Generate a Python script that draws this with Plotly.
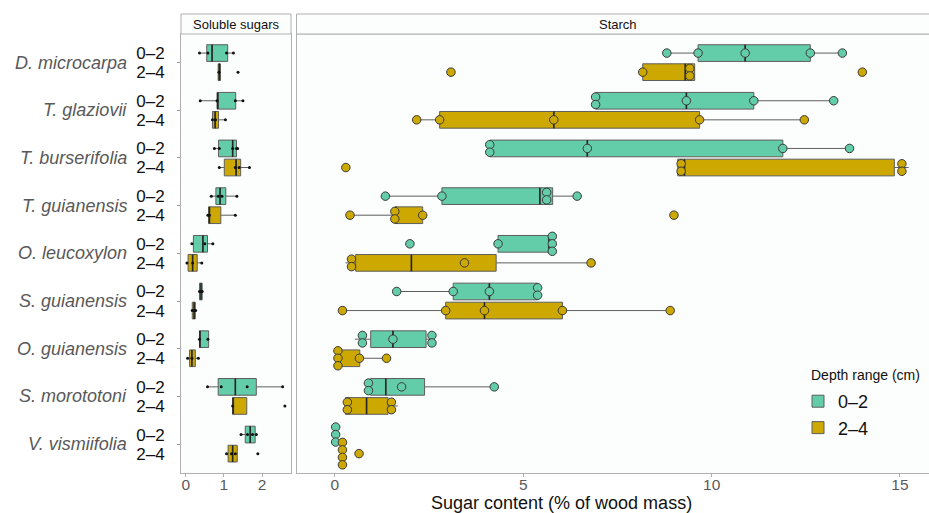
import plotly.graph_objects as go

species = ["D. microcarpa", "T. glaziovii", "T. burserifolia", "T. guianensis",
           "O. leucoxylon", "S. guianensis", "O. guianensis", "S. morototoni", "V. vismiifolia"]
depths = ["0–2", "2–4"]
colors = {"0–2": "#63CCA9", "2–4": "#CCA800"}

# ---- Soluble sugars: box stats (lower whisker, q1, median, q3, upper whisker)
sol_lo_02 = [0.36, 0.38, 0.75, 0.67, 0.16, 0.35, 0.35, 0.57, 1.45]
sol_q1_02 = [0.55, 0.82, 0.86, 0.79, 0.20, 0.36, 0.36, 0.85, 1.56]
sol_md_02 = [0.69, 0.84, 1.23, 0.90, 0.45, 0.40, 0.37, 1.30, 1.69]
sol_q3_02 = [1.10, 1.31, 1.33, 1.05, 0.57, 0.43, 0.60, 1.85, 1.82]
sol_hi_02 = [1.25, 1.50, 1.36, 1.34, 0.71, 0.45, 0.60, 2.54, 1.85]

sol_lo_24 = [0.84, 0.70, 0.88, 0.58, 0.03, 0.14, 0.05, 1.23, 1.07]
sol_q1_24 = [0.85, 0.70, 1.01, 0.60, 0.06, 0.17, 0.10, 1.23, 1.11]
sol_md_24 = [0.88, 0.77, 1.32, 0.62, 0.18, 0.22, 0.16, 1.24, 1.23]
sol_q3_24 = [0.91, 0.86, 1.44, 0.92, 0.30, 0.25, 0.25, 1.60, 1.35]
sol_hi_24 = [0.92, 1.04, 1.67, 1.30, 0.42, 0.27, 0.33, 1.60, 1.36]

sol_pts_02 = [[0.36, 0.58, 1.07, 1.25], [0.38, 0.82, 1.30, 1.50], [0.75, 0.88, 1.23, 1.33, 1.36],
              [0.67, 0.85, 0.95, 1.34], [0.16, 0.50, 0.71], [0.36, 0.40, 0.43],
              [0.36, 0.58], [0.57, 0.93, 1.61, 2.54], [1.45, 1.62, 1.75, 1.85]]
sol_pts_24 = [[0.87, 1.37], [0.70, 0.78, 1.04], [0.88, 1.30, 1.40, 1.67],
              [0.58, 0.62, 1.30], [0.03, 0.18, 0.42], [0.17, 0.22, 0.26],
              [0.05, 0.16, 0.33], [1.23, 2.60], [1.07, 1.20, 1.30, 1.89]]

# ---- Starch: box stats
st_lo_02 = [8.81, 6.92, 4.11, 1.34, 4.33, 1.64, 0.53, 0.85, 0.02]
st_q1_02 = [9.64, 6.92, 4.11, 2.84, 4.33, 3.14, 0.95, 0.95, 0.02]
st_md_02 = [10.89, 9.33, 6.70, 5.44, 5.68, 4.10, 1.54, 1.35, 0.02]
st_q3_02 = [12.62, 11.12, 11.89, 5.78, 5.78, 5.38, 2.42, 2.38, 0.02]
st_hi_02 = [13.47, 13.24, 13.66, 6.43, 5.80, 5.38, 2.65, 4.23, 0.02]

st_lo_24 = [8.17, 2.17, 9.10, 0.40, 0.28, 0.20, 0.06, 0.24, 0.15]
st_q1_24 = [8.17, 2.78, 9.10, 1.59, 0.55, 2.94, 0.10, 0.28, 0.18]
st_md_24 = [9.30, 5.81, 9.28, 1.62, 2.03, 3.97, 0.12, 0.84, 0.20]
st_q3_24 = [9.55, 9.68, 14.85, 2.33, 4.28, 6.04, 0.66, 1.41, 0.22]
st_hi_24 = [9.55, 12.46, 15.23, 2.33, 6.80, 8.90, 1.37, 1.67, 0.25]

st_pts_02 = [[8.81, 9.64, 10.89, 12.62, 13.47], [6.90, 6.94, 9.33, 11.12, 13.24],
             [4.10, 4.12, 6.70, 11.89, 13.66], [1.34, 2.84, 5.60, 5.64, 6.43],
             [1.99, 4.33, 5.74, 5.77, 5.80], [1.64, 3.14, 4.10, 5.36, 5.40],
             [0.70, 0.76, 1.54, 2.55, 2.60], [0.87, 0.91, 1.77, 4.23], [0.00, 0.02, 0.04]]
st_pts_24 = [[3.08, 8.17, 9.38, 9.46, 14.00], [2.17, 2.78, 5.81, 9.68, 12.46],
             [0.29, 9.17, 9.21, 15.03, 15.07], [0.40, 1.57, 1.61, 2.33, 9.00],
             [0.42, 0.46, 3.44, 6.80], [0.20, 2.94, 3.97, 6.04, 8.90],
             [0.06, 0.08, 0.10, 0.65, 1.37], [0.31, 0.35, 1.48, 1.52], [0.18, 0.19, 0.21, 0.22, 0.64]]

W, H = 929, 513
DODGE = 0.2
BOXW = 0.35
DOT_STEP = 0.157
FONT = "Liberation Sans, Arial, sans-serif"
PANEL_BG = "#fcfdfd"


def px_x(p):
    return p / W


def px_y(p):
    return 1 - p / H


def pos(depth_i):
    off = -DODGE if depth_i == 0 else DODGE
    return [i + off for i in range(len(species))]


def stack_points(groups, depth_i, thr=0.15):
    xs, ys = [], []
    base = pos(depth_i)
    for g, vals in enumerate(groups):
        vals = sorted(vals)
        clusters = []
        for v in vals:
            if clusters and v - clusters[-1][0] <= thr:
                clusters[-1].append(v)
            else:
                clusters.append([v])
        for c in clusters:
            m = sum(c) / len(c)
            n = len(c)
            for k in range(n):
                xs.append(m)
                ys.append(base[g] + (k - (n - 1) / 2) * DOT_STEP)
    return xs, ys


fig = go.Figure()

panels = [
    ("x", "y", [(sol_lo_02, sol_q1_02, sol_md_02, sol_q3_02, sol_hi_02, sol_pts_02),
                (sol_lo_24, sol_q1_24, sol_md_24, sol_q3_24, sol_hi_24, sol_pts_24)], False),
    ("x2", "y2", [(st_lo_02, st_q1_02, st_md_02, st_q3_02, st_hi_02, st_pts_02),
                  (st_lo_24, st_q1_24, st_md_24, st_q3_24, st_hi_24, st_pts_24)], True),
]

for xa, ya, groups, is_starch in panels:
    for d, (lo, q1, md, q3, hi, pts) in enumerate(groups):
        dep = depths[d]
        fig.add_trace(go.Box(
            y=pos(d), lowerfence=lo, q1=q1, median=md, q3=q3, upperfence=hi,
            orientation="h", width=BOXW, whiskerwidth=0,
            fillcolor=colors[dep], line=dict(color="#5e5e5e", width=1),
            boxpoints=False, name=dep, legendgroup=dep, showlegend=is_starch,
            xaxis=xa, yaxis=ya, hoverinfo="skip"))
        # median lines (darker)
        mx, my = [], []
        for m, p in zip(md, pos(d)):
            mx += [m, m, None]
            my += [p - BOXW / 2, p + BOXW / 2, None]
        fig.add_trace(go.Scatter(x=mx, y=my, mode="lines",
                                 line=dict(color="#262626", width=1.6),
                                 showlegend=False, hoverinfo="skip", xaxis=xa, yaxis=ya))
        if is_starch:
            sx, sy = stack_points(pts, d)
            fig.add_trace(go.Scatter(x=sx, y=sy, mode="markers",
                                     marker=dict(size=8.5, color=colors[dep],
                                                 line=dict(color="#3a3a3a", width=1)),
                                     showlegend=False, hoverinfo="skip", xaxis=xa, yaxis=ya))
        else:
            sx, sy = [], []
            for g, vals in enumerate(pts):
                for v in vals:
                    sx.append(v)
                    sy.append(pos(d)[g])
            fig.add_trace(go.Scatter(x=sx, y=sy, mode="markers",
                                     marker=dict(size=3, color="#111111"),
                                     showlegend=False, hoverinfo="skip", xaxis=xa, yaxis=ya))

tickvals = []
ticktext = []
for i in range(len(species)):
    for d in range(2):
        tickvals.append(pos(d)[i])
        ticktext.append(depths[d])

y_dom = [px_y(472.7), px_y(34)]
common_x = dict(showgrid=False, zeroline=False, showline=True, linecolor="#b0b0b0",
                ticks="outside", ticklen=3, tickcolor="#b0b0b0", automargin=False,
                ticklabelstandoff=-5,
                tickfont=dict(family=FONT, size=15.5, color="#5a5a5a"))

fig.update_layout(
    width=W, height=H, margin=dict(l=0, r=0, t=0, b=0, autoexpand=False),
    paper_bgcolor="white", plot_bgcolor=PANEL_BG, boxmode="overlay",
    font=dict(family=FONT),
    xaxis=dict(domain=[px_x(181), px_x(291)], range=[-0.125, 2.76], tickvals=[0, 1, 2],
               mirror=True, anchor="y", **common_x),
    xaxis2=dict(domain=[px_x(296.5), 1.0], range=[-1.02, 15.77], tickvals=[0, 5, 10, 15],
                mirror=False, anchor="y2", **common_x),
    yaxis=dict(domain=y_dom, range=[8.6, -0.6], tickmode="array", tickvals=tickvals,
               ticktext=ticktext, ticks="", showgrid=False, zeroline=False,
               showline=True, linecolor="#b0b0b0", mirror=True, automargin=False,
               tickfont=dict(family=FONT, size=17, color="#111111"),
               ticklabelstandoff=12,
               minor=dict(tickmode="array", tickvals=list(range(9)), ticks="outside",
                          ticklen=3, tickcolor="#999999")),
    yaxis2=dict(domain=y_dom, range=[8.6, -0.6], matches="y", anchor="x2",
                showticklabels=False, ticks="", showgrid=False, zeroline=False,
                showline=True, linecolor="#b0b0b0", automargin=False),
    legend=dict(x=px_x(798), y=px_y(383), xanchor="left", yanchor="top",
                bgcolor="rgba(0,0,0,0)", itemwidth=30,
                font=dict(family=FONT, size=18, color="#111"), tracegroupgap=0),
)

shapes = [
    dict(type="line", xref="paper", yref="paper", x0=px_x(296.5), x1=1.0,
         y0=px_y(34), y1=px_y(34), line=dict(color="#b0b0b0", width=1)),
    dict(type="rect", xref="paper", yref="paper", x0=px_x(181), x1=px_x(291),
         y0=px_y(34), y1=px_y(14), fillcolor=PANEL_BG, line=dict(color="#b0b0b0", width=1)),
    dict(type="rect", xref="paper", yref="paper", x0=px_x(296.5), x1=1.0,
         y0=px_y(34), y1=px_y(14), fillcolor=PANEL_BG, line=dict(width=0)),
    dict(type="line", xref="paper", yref="paper", x0=px_x(296.5), x1=1.0,
         y0=px_y(14), y1=px_y(14), line=dict(color="#b0b0b0", width=1)),
    dict(type="line", xref="paper", yref="paper", x0=px_x(296.5), x1=1.0,
         y0=px_y(34), y1=px_y(34), line=dict(color="#b0b0b0", width=1)),
    dict(type="line", xref="paper", yref="paper", x0=px_x(296.5), x1=px_x(296.5),
         y0=px_y(34), y1=px_y(14), line=dict(color="#b0b0b0", width=1)),
]
fig.update_layout(shapes=shapes)

annotations = [
    dict(text="Soluble sugars", x=px_x(236), y=px_y(24), xref="paper", yref="paper",
         xanchor="center", yanchor="middle",
         showarrow=False, font=dict(family=FONT, size=13, color="#111")),
    dict(text="Starch", x=px_x(618), y=px_y(24), xref="paper", yref="paper",
         xanchor="center", yanchor="middle",
         showarrow=False, font=dict(family=FONT, size=13, color="#111")),
    dict(text="Sugar content (% of wood mass)", x=px_x(561), y=px_y(502.5), xref="paper",
         yref="paper", xanchor="center", yanchor="middle",
         showarrow=False, font=dict(family=FONT, size=18, color="#111")),
    dict(text="Depth range (cm)", x=px_x(809), y=px_y(375), xref="paper", yref="paper",
         xanchor="left", yanchor="middle",
         showarrow=False, font=dict(family=FONT, size=14, color="#111")),
]
for i, sp in enumerate(species):
    annotations.append(dict(text="<i>" + sp + "</i>", x=px_x(129), y=i, xref="paper", yref="y",
                            xanchor="right", yanchor="middle", showarrow=False,
                            font=dict(family=FONT, size=18, color="#595959")))
fig.update_layout(annotations=annotations)

fig.write_html("out.html", config={"displayModeBar": False},
               post_script="document.body.style.margin='0px';document.body.style.overflow='hidden';")
